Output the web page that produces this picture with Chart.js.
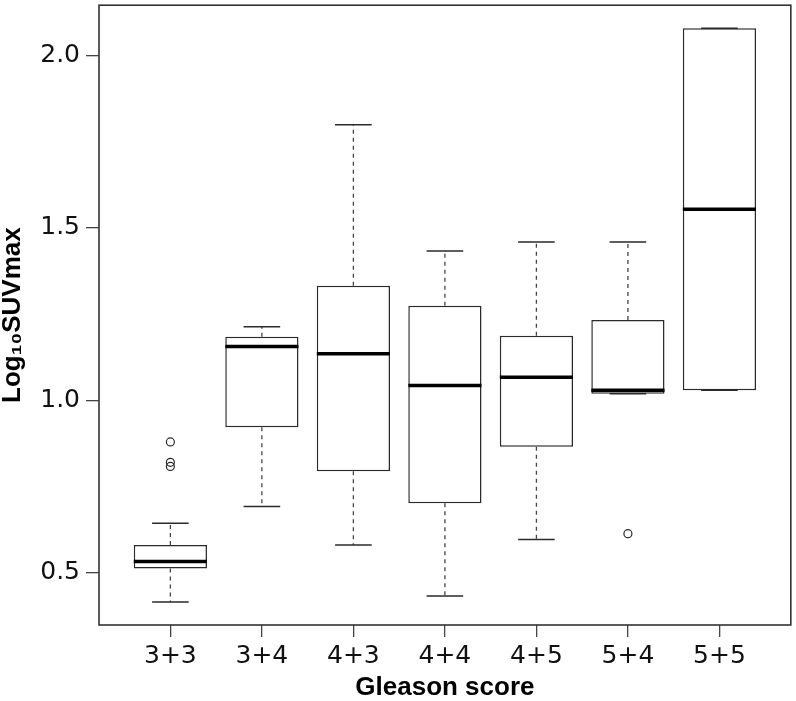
<!DOCTYPE html>
<html>
<head>
<meta charset="utf-8">
<script src="https://cdn.jsdelivr.net/npm/chart.js@4/dist/chart.umd.min.js"></script>
<style>
html,body{margin:0;padding:0;background:#fff;}
#wrap{width:796px;height:701px;position:relative;}
</style>
</head>
<body>
<div id="wrap"><canvas id="c"></canvas></div>
<script>
// ---- data ----
const categories = ['3+3', '3+4', '4+3', '4+4', '4+5', '5+4', '5+5'];
const whiskerLow  = [0.415, 0.692, 0.580, 0.432, 0.596, 1.019, 1.029];
const q1          = [0.512, 0.922, 0.794, 0.701, 0.865, 1.019, 1.029];
const median      = [0.532, 1.156, 1.135, 1.043, 1.067, 1.029, 1.554];
const q3          = [0.580, 1.184, 1.332, 1.274, 1.187, 1.233, 2.079];
const whiskerHigh = [0.643, 1.213, 1.799, 1.433, 1.459, 1.459, 2.079];
const outlierCategory = ['3+3', '3+3', '3+3', '5+4'];
const outlierValue    = [0.879, 0.820, 0.808, 0.613];
const yTicks = [0.5, 1.0, 1.5, 2.0];

// ---- helpers ----
const pos = c => categories.indexOf(c) + 1;
function unitPx(chart, u) {
  const s = chart.scales.x;
  return Math.abs(s.getPixelForValue(1 + u) - s.getPixelForValue(1));
}

const boxData = categories.map((c, i) => ({x: pos(c), y: [q1[i], q3[i]]}));
const whiskerData = [];
categories.forEach((c, i) => {
  whiskerData.push({x: pos(c), y: q3[i]}, {x: pos(c), y: whiskerHigh[i]}, {x: pos(c), y: null});
  whiskerData.push({x: pos(c), y: q1[i]}, {x: pos(c), y: whiskerLow[i]}, {x: pos(c), y: null});
});
const capData = [];
categories.forEach((c, i) => {
  capData.push({x: pos(c), y: whiskerHigh[i]}, {x: pos(c), y: whiskerLow[i]});
});
const medianData = categories.map((c, i) => ({x: pos(c), y: median[i]}));
const outlierData = outlierCategory.map((c, i) => ({x: pos(c), y: outlierValue[i]}));

const framePlugin = {
  id: 'frame',
  afterDatasetsDraw(chart) {
    const {ctx, chartArea: a} = chart;
    ctx.save();
    ctx.strokeStyle = '#333333';
    ctx.lineWidth = 1.6;
    ctx.strokeRect(a.left, a.top, a.right - a.left, a.bottom - a.top);
    ctx.restore();
  }
};

const tickFont = {family: 'DejaVu Sans', size: 25};
const titleFont = {family: 'Liberation Sans', size: 26, weight: 'bold', lineHeight: 1};

new Chart(document.getElementById('c'), {
  type: 'bar',
  data: {
    datasets: [
      {
        type: 'bar', label: 'box', data: boxData,
        backgroundColor: '#ffffff', borderColor: '#2a2a2a', borderWidth: 1.5,
        borderSkipped: false, barPercentage: 0.8, categoryPercentage: 1, order: 5
      },
      {
        type: 'line', label: 'whiskers', data: whiskerData,
        borderColor: '#444444', borderWidth: 1.3, borderDash: [4, 4],
        pointRadius: 0, pointHoverRadius: 0, spanGaps: false, fill: false, order: 4
      },
      {
        type: 'scatter', label: 'caps', data: capData,
        pointStyle: 'line', pointBorderColor: '#2a2a2a', pointBorderWidth: 1.5,
        pointRadius: c => unitPx(c.chart, 0.2), pointHoverRadius: c => unitPx(c.chart, 0.2),
        order: 3
      },
      {
        type: 'scatter', label: 'median', data: medianData,
        pointStyle: 'line', pointBorderColor: '#000000', pointBorderWidth: 3.5,
        pointRadius: c => unitPx(c.chart, 0.4), pointHoverRadius: c => unitPx(c.chart, 0.4),
        order: 1
      },
      {
        type: 'scatter', label: 'outliers', data: outlierData,
        pointStyle: 'circle', pointBorderColor: '#2a2a2a', pointBackgroundColor: 'rgba(255,255,255,0)',
        pointBorderWidth: 1.2, pointRadius: 4, pointHoverRadius: 4, order: 0
      }
    ]
  },
  options: {
    responsive: true,
    maintainAspectRatio: false,
    animation: false,
    events: [],
    layout: {padding: {top: 2, right: 4, left: 0, bottom: 0}},
    plugins: {legend: {display: false}, tooltip: {enabled: false}},
    scales: {
      x: {
        type: 'linear', min: 0.22, max: 7.78, offset: false,
        grid: {display: true, drawOnChartArea: false, drawTicks: true, tickLength: 12, color: '#444444', lineWidth: 1.3, offset: false},
        border: {display: false},
        afterBuildTicks: s => { s.ticks = categories.map((c, i) => ({value: i + 1})); },
        ticks: {
          callback: v => categories[Math.round(v) - 1] ?? '',
          font: tickFont, color: '#111111', padding: 4, maxRotation: 0, autoSkip: false
        },
        title: {display: true, text: 'Gleason score', font: titleFont, color: '#000000', padding: {top: 0, bottom: 0}},
        afterFit: s => { s.height = 76; s.paddingLeft = 0; s.paddingRight = 0; }
      },
      y: {
        type: 'linear', min: 0.348, max: 2.146,
        grid: {display: true, drawOnChartArea: false, drawTicks: true, tickLength: 13, color: '#444444', lineWidth: 1.3},
        border: {display: false},
        afterBuildTicks: s => { s.ticks = yTicks.map(v => ({value: v})); },
        ticks: {
          callback: v => Number(v).toFixed(1),
          font: tickFont, color: '#111111', padding: 6
        },
        title: {display: true, text: 'Log₁₀SUVmax', font: titleFont, color: '#000000', padding: {top: 0, bottom: 0}},
        afterFit: s => { s.width = 99; s.paddingTop = 0; s.paddingBottom = 0; }
      }
    }
  },
  plugins: [framePlugin]
});
</script>
</body>
</html>
